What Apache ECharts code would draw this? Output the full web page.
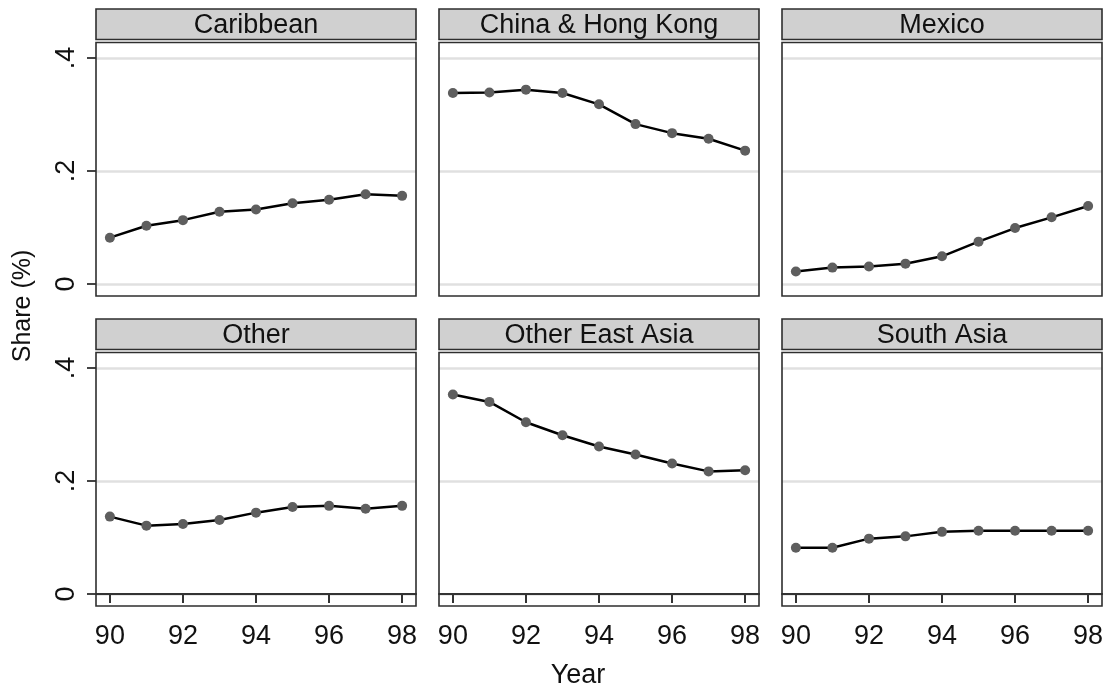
<!DOCTYPE html>
<html>
<head>
<meta charset="utf-8">
<script src="https://cdn.jsdelivr.net/npm/echarts@6/dist/echarts.min.js"></script>
<style>
  html, body { margin: 0; padding: 0; background: #fff; }
  #main { width: 1112px; height: 696px; }
</style>
</head>
<body>
<div id="main"></div>
<script>
// data, share by region and year
var years = [90, 91, 92, 93, 94, 95, 96, 97, 98];
var xTicks = [90, 92, 94, 96, 98];
var panelNames = ['Caribbean', 'China & Hong Kong', 'Mexico', 'Other', 'Other East Asia', 'South Asia'];
var caribbean = [0.082, 0.103, 0.113, 0.128, 0.132, 0.143, 0.149, 0.159, 0.156];
var chinaHongKong = [0.338, 0.339, 0.344, 0.338, 0.318, 0.283, 0.267, 0.257, 0.236];
var mexico = [0.022, 0.029, 0.031, 0.036, 0.049, 0.075, 0.099, 0.118, 0.138];
var other = [0.137, 0.121, 0.124, 0.131, 0.144, 0.154, 0.156, 0.151, 0.156];
var otherEastAsia = [0.353, 0.340, 0.304, 0.281, 0.261, 0.247, 0.231, 0.217, 0.219];
var southAsia = [0.082, 0.082, 0.098, 0.102, 0.110, 0.112, 0.112, 0.112, 0.112];
var panelValues = [caribbean, chinaHongKong, mexico, other, otherEastAsia, southAsia];

// layout of the 2 x 3 panels
var colLeft = [96, 439, 782];
var panelWidth = 320;
var stripTop = [9, 319];
var stripHeight = 30.5;
var boxTop = [42.5, 352.5];
var boxHeight = 253.5;
var gridTop = [58, 368];
var gridHeight = 226;
var font = '"Liberation Sans", Arial, sans-serif';

function toPairs(vals) {
	var out = [];
	for (var k = 0; k < years.length; k++) {
		out.push([years[k], vals[k]]);
	}
	return out;
}

function yLabel(v) {
	if (v === 0) return '0';
	return String(+v.toFixed(1)).replace(/^0/, '');
}

var grids = [], xAxes = [], yAxes = [], series = [], graphics = [];

for (var i = 0; i < 6; i++) {
	var row = Math.floor(i / 3);
	var col = i % 3;
	grids.push({ left: colLeft[col], top: gridTop[row], width: panelWidth, height: gridHeight });
	xAxes.push({
		type: 'value',
		gridIndex: i,
		min: 89.62,
		max: 98.38,
		position: 'bottom',
		offset: 15,
		show: row === 1,
		splitLine: { show: false },
		axisLine: { show: true, lineStyle: { color: '#333', width: 2 } },
		axisTick: { customValues: xTicks, length: 9, lineStyle: { color: '#333', width: 2 } },
		axisLabel: { customValues: xTicks, fontSize: 27, color: '#111', margin: 14, fontFamily: font }
	});
	yAxes.push({
		type: 'value',
		gridIndex: i,
		min: 0,
		max: 0.4,
		interval: 0.2,
		axisLine: { show: false },
		axisTick: { show: col === 0, length: 9, lineStyle: { color: '#444', width: 2 } },
		axisLabel: {
			show: col === 0, rotate: 90, margin: 16, fontSize: 27, color: '#111',
			fontFamily: font, formatter: yLabel
		},
		splitLine: { show: true, lineStyle: { color: '#e0e0e0', width: 2.5 } }
	});
	series.push({
		type: 'line',
		name: panelNames[i],
		xAxisIndex: i,
		yAxisIndex: i,
		data: toPairs(panelValues[i]),
		symbol: 'circle',
		symbolSize: 10,
		showSymbol: true,
		itemStyle: { color: '#5e5e5e' },
		lineStyle: { color: '#000', width: 2.5 },
		z: 3
	});

	// panel frame
	graphics.push({
		type: 'rect', z: 1,
		shape: { x: colLeft[col], y: boxTop[row], width: panelWidth, height: boxHeight },
		style: { fill: null, stroke: '#2e2e2e', lineWidth: 1.6 }
	});
	// title strip
	graphics.push({
		type: 'rect', z: 1,
		shape: { x: colLeft[col], y: stripTop[row], width: panelWidth, height: stripHeight },
		style: { fill: '#d0d0d0', stroke: '#2e2e2e', lineWidth: 1.6 }
	});
	graphics.push({
		type: 'text', z: 2,
		x: colLeft[col] + panelWidth / 2,
		y: stripTop[row] + stripHeight / 2 + 1,
		style: {
			text: panelNames[i], fontSize: 27, fontFamily: font, fill: '#111',
			align: 'center', verticalAlign: 'middle'
		}
	});
}

graphics.push({
	type: 'text', x: 23, y: 306, rotation: Math.PI / 2,
	style: { text: 'Share (%)', fontSize: 25, fontFamily: font, fill: '#111', align: 'center', verticalAlign: 'middle' }
});
graphics.push({
	type: 'text', x: 578, y: 676,
	style: { text: 'Year', fontSize: 27, fontFamily: font, fill: '#111', align: 'center', verticalAlign: 'middle' }
});

var chart = echarts.init(document.getElementById('main'), null, { renderer: 'canvas' });
chart.setOption({
	backgroundColor: '#ffffff',
	animation: false,
	grid: grids,
	xAxis: xAxes,
	yAxis: yAxes,
	series: series,
	graphic: graphics
});
</script>
</body>
</html>
